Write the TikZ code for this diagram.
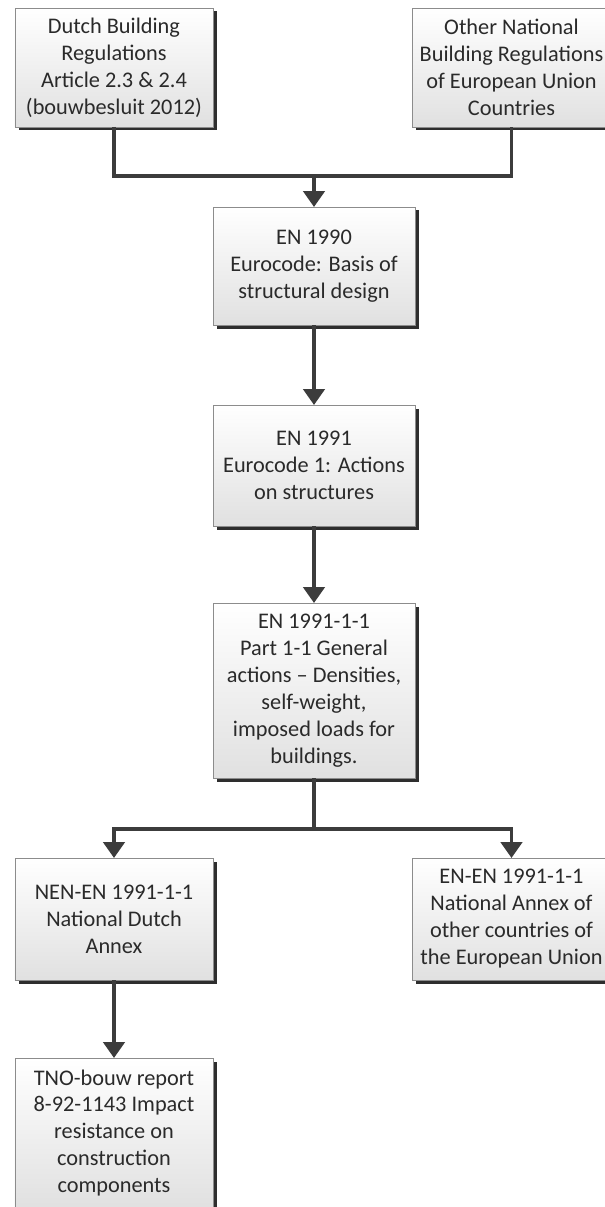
\documentclass[tikz,border=0pt]{standalone}
\usepackage{fontspec}
\setmainfont{Carlito}
\usetikzlibrary{arrows.meta,shadows}
\definecolor{linegray}{HTML}{3C3C3C}
\definecolor{textgray}{HTML}{2A2A2A}

\begin{document}
\begin{tikzpicture}[
    box/.style={draw=black!45, line width=0.5pt, top color=white, bottom color=black!12,
      drop shadow={shadow xshift=0.07cm, shadow yshift=-0.07cm, fill=black!82, opacity=1},
      text=textgray, align=center, inner sep=2pt, outer sep=0pt,
      font=\fontsize{12.7}{15.35}\selectfont},
    conn/.style={draw=linegray, line width=2.1pt},
    arr/.style={conn, -{Triangle[width=12pt,length=9pt]}}
  ]
    \useasboundingbox (0,0) rectangle (12.1,-24.14);

    \node[box, minimum width=3.96cm, minimum height=2.38cm] (dutch) at (2.28,-1.35)
      {Dutch Building\\Regulations\\Article 2.3 \& 2.4\\(bouwbesluit 2012)};
    \node[box, minimum width=3.96cm, minimum height=2.38cm] (other) at (10.23,-1.35)
      {Other National\\Building Regulations\\of European Union\\Countries};

    \node[box, minimum width=4.04cm, minimum height=2.36cm] (en1990) at (6.28,-5.32)
      {EN 1990\\Eurocode: Basis of\\structural design};
    \node[box, minimum width=4.04cm, minimum height=2.42cm] (en1991) at (6.28,-9.31)
      {EN 1991\\Eurocode 1: Actions\\on structures};
    \node[box, minimum width=4.04cm, minimum height=3.5cm] (part11) at (6.28,-13.81)
      {EN 1991-1-1\\Part 1-1 General\\actions -- Densities,\\self-weight,\\imposed loads for\\buildings.};

    \node[box, minimum width=3.96cm, minimum height=2.44cm] (nen) at (2.28,-18.38)
      {NEN-EN 1991-1-1\\National Dutch\\Annex};
    \node[box, minimum width=3.96cm, minimum height=2.44cm] (enen) at (10.23,-18.38)
      {EN-EN 1991-1-1\\National Annex of\\other countries of\\the European Union};
    \node[box, minimum width=3.96cm, minimum height=3.0cm] (tno) at (2.28,-22.66)
      {TNO-bouw report\\8-92-1143 Impact\\resistance on\\construction\\components};

    \coordinate (join) at (6.28,-3.52);
    \coordinate (split) at (6.28,-16.58);

    \draw[conn] (dutch.south) |- (join) -| (other.south);
    \draw[arr] (join) -- (en1990.north);
    \draw[arr] (en1990.south) -- (en1991.north);
    \draw[arr] (en1991.south) -- (part11.north);
    \draw[conn] (part11.south) -- (split);
    \draw[arr] (split) -| (nen.north);
    \draw[arr] (split) -| (enen.north);
    \draw[arr] (nen.south) -- (tno.north);
\end{tikzpicture}
\end{document}
